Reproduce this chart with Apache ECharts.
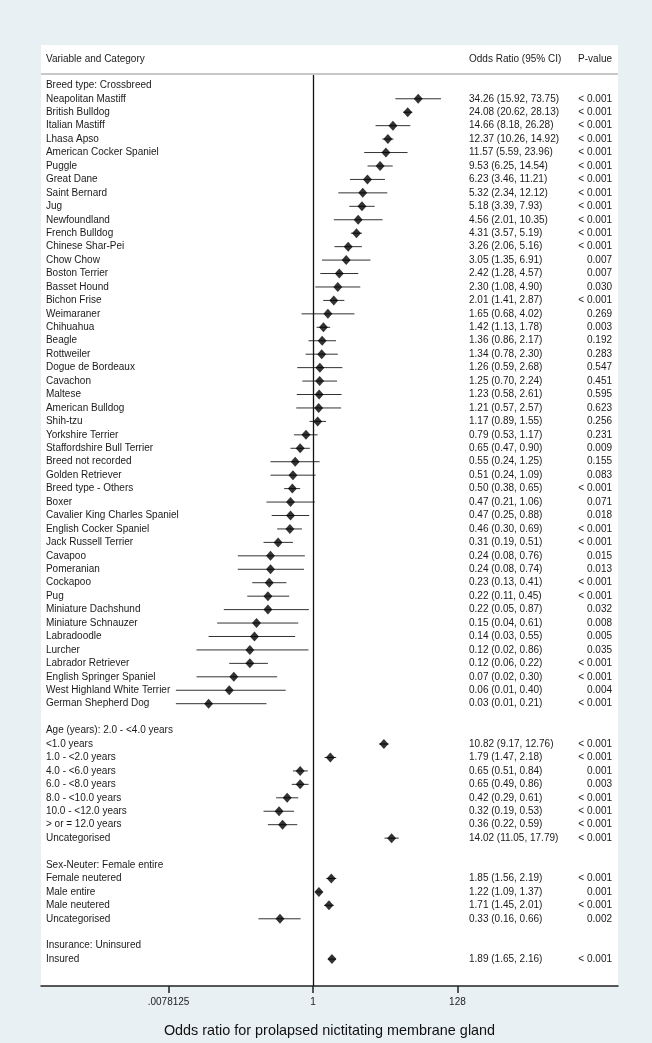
<!DOCTYPE html>
<html>
<head>
<meta charset="utf-8">
<script src="https://cdn.jsdelivr.net/npm/echarts@6/dist/echarts.min.js"></script>
<style>
  html, body { margin: 0; padding: 0; background: #e8f0f3; }
  #chart { width: 652px; height: 1043px; }
</style>
</head>
<body>
<div id="chart"></div>
<script>
// breed type (reference: Crossbreed)
const breedNames = [
  'Neapolitan Mastiff', 'British Bulldog', 'Italian Mastiff', 'Lhasa Apso', 'American Cocker Spaniel',
  'Puggle', 'Great Dane', 'Saint Bernard', 'Jug', 'Newfoundland', 'French Bulldog', 'Chinese Shar-Pei',
  'Chow Chow', 'Boston Terrier', 'Basset Hound', 'Bichon Frise', 'Weimaraner', 'Chihuahua', 'Beagle',
  'Rottweiler', 'Dogue de Bordeaux', 'Cavachon', 'Maltese', 'American Bulldog', 'Shih-tzu',
  'Yorkshire Terrier', 'Staffordshire Bull Terrier', 'Breed not recorded', 'Golden Retriever',
  'Breed type - Others', 'Boxer', 'Cavalier King Charles Spaniel', 'English Cocker Spaniel',
  'Jack Russell Terrier', 'Cavapoo', 'Pomeranian', 'Cockapoo', 'Pug', 'Miniature Dachshund',
  'Miniature Schnauzer', 'Labradoodle', 'Lurcher', 'Labrador Retriever', 'English Springer Spaniel',
  'West Highland White Terrier', 'German Shepherd Dog'
];
const breedOR = [34.26, 24.08, 14.66, 12.37, 11.57, 9.53, 6.23, 5.32, 5.18, 4.56, 4.31, 3.26, 3.05, 2.42, 2.30, 2.01,
  1.65, 1.42, 1.36, 1.34, 1.26, 1.25, 1.23, 1.21, 1.17, 0.79, 0.65, 0.55, 0.51, 0.50, 0.47, 0.47, 0.46, 0.31,
  0.24, 0.24, 0.23, 0.22, 0.22, 0.15, 0.14, 0.12, 0.12, 0.07, 0.06, 0.03];
const breedLow = [15.92, 20.62, 8.18, 10.26, 5.59, 6.25, 3.46, 2.34, 3.39, 2.01, 3.57, 2.06, 1.35, 1.28, 1.08, 1.41,
  0.68, 1.13, 0.86, 0.78, 0.59, 0.70, 0.58, 0.57, 0.89, 0.53, 0.47, 0.24, 0.24, 0.38, 0.21, 0.25, 0.30, 0.19,
  0.08, 0.08, 0.13, 0.11, 0.05, 0.04, 0.03, 0.02, 0.06, 0.02, 0.01, 0.01];
const breedHigh = [73.75, 28.13, 26.28, 14.92, 23.96, 14.54, 11.21, 12.12, 7.93, 10.35, 5.19, 5.16, 6.91, 4.57, 4.90, 2.87,
  4.02, 1.78, 2.17, 2.30, 2.68, 2.24, 2.61, 2.57, 1.55, 1.17, 0.90, 1.25, 1.09, 0.65, 1.06, 0.88, 0.69, 0.51,
  0.76, 0.74, 0.41, 0.45, 0.87, 0.61, 0.55, 0.86, 0.22, 0.30, 0.40, 0.21];
const breedP = ['< 0.001', '< 0.001', '< 0.001', '< 0.001', '< 0.001', '< 0.001', '< 0.001', '< 0.001', '< 0.001',
  '< 0.001', '< 0.001', '< 0.001', '0.007', '0.007', '0.030', '< 0.001', '0.269', '0.003', '0.192', '0.283',
  '0.547', '0.451', '0.595', '0.623', '0.256', '0.231', '0.009', '0.155', '0.083', '< 0.001', '0.071', '0.018',
  '< 0.001', '< 0.001', '0.015', '0.013', '< 0.001', '< 0.001', '0.032', '0.008', '0.005', '0.035', '< 0.001',
  '< 0.001', '0.004', '< 0.001'];

// age (reference: 2.0 - <4.0 years)
const ageNames = ['<1.0 years', '1.0 - <2.0 years', '4.0 - <6.0 years', '6.0 - <8.0 years', '8.0 - <10.0 years',
  '10.0 - <12.0 years', '> or = 12.0 years', 'Uncategorised'];
const ageOR = [10.82, 1.79, 0.65, 0.65, 0.42, 0.32, 0.36, 14.02];
const ageLow = [9.17, 1.47, 0.51, 0.49, 0.29, 0.19, 0.22, 11.05];
const ageHigh = [12.76, 2.18, 0.84, 0.86, 0.61, 0.53, 0.59, 17.79];
const ageP = ['< 0.001', '< 0.001', '0.001', '0.003', '< 0.001', '< 0.001', '< 0.001', '< 0.001'];

// sex-neuter (reference: Female entire)
const sexNames = ['Female neutered', 'Male entire', 'Male neutered', 'Uncategorised'];
const sexOR = [1.85, 1.22, 1.71, 0.33];
const sexLow = [1.56, 1.09, 1.45, 0.16];
const sexHigh = [2.19, 1.37, 2.01, 0.66];
const sexP = ['< 0.001', '0.001', '< 0.001', '0.002'];

// insurance (reference: Uninsured)
const insNames = ['Insured'];
const insOR = [1.89];
const insLow = [1.65];
const insHigh = [2.16];
const insP = ['< 0.001'];

const tickValues = [0.0078125, 1, 128];
const tickLabels = ['.0078125', '1', '128'];

const sections = [
  { title: 'Breed type: Crossbreed', names: breedNames, or: breedOR, low: breedLow, high: breedHigh, p: breedP },
  { title: 'Age (years): 2.0 - <4.0 years', names: ageNames, or: ageOR, low: ageLow, high: ageHigh, p: ageP },
  { title: 'Sex-Neuter: Female entire', names: sexNames, or: sexOR, low: sexLow, high: sexHigh, p: sexP },
  { title: 'Insurance: Uninsured', names: insNames, or: insOR, low: insLow, high: insHigh, p: insP },
];

// one row per line of the table, blank line between sections
const rows = [];
sections.forEach((s, i) => {
  if (i > 0) rows.push(null);
  rows.push({ label: s.title });
  s.names.forEach((n, j) => rows.push({ label: n, or: s.or[j], low: s.low[j], high: s.high[j], p: s.p[j] }));
});

// x axis is log2(odds ratio); the text columns sit inside the plot like in Stata
const X_MIN = -13.18, X_MAX = 14.78;
const LABEL_X = -12.94, OR_X = 7.56, P_X = 14.49;
const Y_MIN = -3.0, Y_MAX = 67.0;
const HEAD_ROW = -1.97, SEP_ROW = -0.85;
const fmt = v => v.toFixed(2);

const texts = [
  { x: LABEL_X, r: HEAD_ROW, text: 'Variable and Category', align: 'left' },
  { x: OR_X, r: HEAD_ROW, text: 'Odds Ratio (95% CI)', align: 'left' },
  { x: P_X, r: HEAD_ROW, text: 'P-value', align: 'right' },
];
const ciData = [];
const pointData = [];
rows.forEach((row, r) => {
  if (!row) return;
  texts.push({ x: LABEL_X, r, text: row.label, align: 'left' });
  if (row.or == null) return;
  texts.push({ x: OR_X, r, text: `${fmt(row.or)} (${fmt(row.low)}, ${fmt(row.high)})`, align: 'left' });
  texts.push({ x: P_X, r, text: row.p, align: 'right' });
  ciData.push([Math.log2(row.low), Math.log2(row.high), r]);
  pointData.push([Math.log2(row.or), r]);
});

const tickLog = tickValues.map(Math.log2);
const chart = echarts.init(document.getElementById('chart'));
chart.setOption({
  backgroundColor: '#e8f0f3',
  animation: false,
  grid: { left: 41, right: 34, top: 45, bottom: 53, show: true, backgroundColor: '#fff', borderWidth: 0 },
  xAxis: {
    type: 'value',
    min: X_MIN,
    max: X_MAX,
    axisLine: { show: true, onZero: false, lineStyle: { color: '#222', width: 1.5 } },
    axisTick: { show: true, customValues: tickLog, length: 7, lineStyle: { color: '#222', width: 1.5 } },
    axisLabel: {
      customValues: tickLog,
      formatter: v => tickLabels[tickLog.findIndex(t => Math.abs(t - v) < 1e-6)],
      fontFamily: 'Liberation Sans', fontSize: 10, color: '#222', margin: 11,
    },
    splitLine: { show: false },
    name: 'Odds ratio for prolapsed nictitating membrane gland',
    nameLocation: 'middle',
    nameGap: 38,
    nameTextStyle: { fontFamily: 'Liberation Sans', fontSize: 14.4, color: '#111' },
  },
  yAxis: { type: 'value', inverse: true, min: Y_MIN, max: Y_MAX, show: false },
  series: [
    {
      type: 'custom',
      data: ciData,
      encode: { x: [0, 1], y: 2 },
      renderItem: (params, api) => {
        const a = api.coord([api.value(0), api.value(2)]);
        const b = api.coord([api.value(1), api.value(2)]);
        return { type: 'line', shape: { x1: a[0], y1: a[1], x2: b[0], y2: b[1] }, style: { stroke: '#333', lineWidth: 1 } };
      },
      silent: true,
      z: 2,
    },
    {
      type: 'scatter',
      data: pointData,
      symbol: 'diamond',
      symbolSize: [9, 10],
      itemStyle: { color: '#000' },
      silent: true,
      z: 3,
      markLine: {
        silent: true,
        symbol: 'none',
        label: { show: false },
        data: [
          [{ coord: [0, SEP_ROW], lineStyle: { color: '#111', width: 1.3, type: 'solid' } }, { coord: [0, Y_MAX] }],
          [{ coord: [X_MIN, SEP_ROW], lineStyle: { color: '#c8c8c8', width: 2, type: 'solid' } }, { coord: [X_MAX, SEP_ROW] }],
        ],
      },
    },
    {
      type: 'custom',
      data: texts.map(t => [t.x, t.r]),
      encode: { x: 0, y: 1 },
      renderItem: (params, api) => {
        const t = texts[params.dataIndex];
        const p = api.coord([api.value(0), api.value(1)]);
        return {
          type: 'text',
          x: p[0],
          y: p[1],
          style: {
            text: t.text, fill: '#1a1a1a', font: '10px "Liberation Sans", Arial, sans-serif',
            align: t.align, verticalAlign: 'middle',
          },
        };
      },
      silent: true,
      z: 4,
    },
  ],
});
</script>
</body>
</html>
